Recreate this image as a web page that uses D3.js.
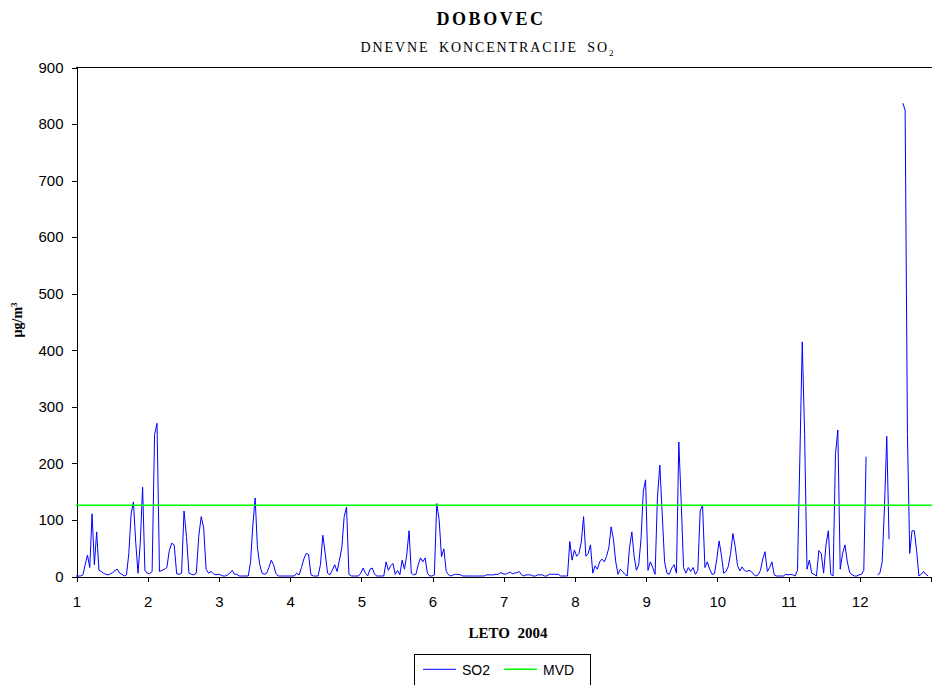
<!DOCTYPE html>
<html>
<head>
<meta charset="utf-8">
<script src="https://cdn.jsdelivr.net/npm/d3@7"></script>
<style>
body { margin: 0; background: #fff; }
svg { display: block; }
</style>
</head>
<body>
<div id="chart"></div>
<script>
// daily SO2 concentrations (µg/m3), one array per month, null = no measurement
let jan = [0,0,0,2,20,37,15,110,20,78, 10,8,5,3,2,4,6,10,12,5, 3,0,2,40,110,131,60,5,60,157, 10];
let feb = [5,4,8,250,270,8,10,12,15,45, 58,55,4,3,5,115,70,5,3,2, 5,70,105,85,12,5,8,4,2];
let mar = [3,2,0,0,2,5,10,3,3,0, 0,0,0,0,25,90,138,50,20,5, 3,5,15,28,20,5,0,0,0,0, 0];
let apr = [0,0,0,5,2,15,30,40,38,2, 0,0,0,20,72,40,5,2,10,20, 8,28,50,105,122,3,0,0,0,0];
let may = [5,14,5,0,12,14,3,0,0,0, 0,25,10,18,22,3,10,2,28,12, 37,80,5,2,3,20,32,25,32,5, 0];
let jun = [0,2,128,100,34,48,8,2,0,2, 3,3,2,0,0,0,0,0,0,0, 0,0,0,2,2,2,2,3,3,6];
let jul = [4,3,5,7,4,5,6,8,2,0, 2,2,2,0,0,2,2,2,0,0, 3,3,3,3,3,0,0,0,0,61, 28];
let aug = [46,35,40,60,105,35,40,55,5,18, 12,25,30,25,35,50,87,65,25,3, 12,8,3,0,50,78,35,10,20,65, 150];
let sep = [170,10,25,15,3,140,196,110,25,5, 3,14,20,5,237,130,15,5,15,8, 15,3,10,115,125,15,25,12,3,4];
let oct = [30,62,37,5,8,17,40,75,52,19, 9,16,10,8,10,8,3,0,2,10, 30,43,8,15,25,2,0,0,0,0, 3];
let nov = [2,3,2,0,10,210,414,250,12,28, 5,3,0,45,40,5,55,80,3,0, 215,258,12,40,55,25,6,2,0,0];
let dec = [2,3,10,211,null,null,null,null,2,5, 25,120,247,65,null,null,null,null,null,836, 824,250,40,80,80,45,0,3,8,3, 0];

let months = [jan, feb, mar, apr, may, jun, jul, aug, sep, oct, nov, dec];
let monthTicks = [1, 2, 3, 4, 5, 6, 7, 8, 9, 10, 11, 12, 13];
let yTicks = [0, 100, 200, 300, 400, 500, 600, 700, 800, 900];
let mvdLimit = 125;
let seriesNames = ["SO2", "MVD"];

let width = 932, height = 685;
let svg = d3.select("#chart")
	.append("svg")
	.attr("width", width)
	.attr("height", height);

//scales
let x = d3.scaleLinear().domain([1, 13]).range([76, 930.4]),
	y = d3.scaleLinear().domain([0, 900]).range([576, 67]);

//titles
svg.append("text")
	.attr("x", 491)
	.attr("y", 25)
	.attr("text-anchor", "middle")
	.style("font", "bold 18px 'Liberation Serif'")
	.style("letter-spacing", "2.6px")
	.text("DOBOVEC");

let sub = svg.append("text")
	.attr("x", 488)
	.attr("y", 52)
	.attr("text-anchor", "middle")
	.style("font", "14px 'Liberation Serif'")
	.style("letter-spacing", "1.9px")
	.style("word-spacing", "4px");
sub.append("tspan").text("DNEVNE KONCENTRACIJE SO");
sub.append("tspan").attr("dy", 4).style("font-size", "9px").text("2");

//plot frame top line
svg.append("line")
	.attr("x1", 76).attr("x2", 932)
	.attr("y1", 67.5).attr("y2", 67.5)
	.attr("stroke", "#000")
	.attr("stroke-width", 1);

//y axis
let yAxis = svg.append("g")
	.attr("transform", "translate(76.5,0.5)")
	.call(d3.axisLeft(y).tickValues(yTicks).tickSize(5).tickPadding(8));
yAxis.selectAll("text").style("font", "15px 'Liberation Sans'").attr("fill", "#000");

//x axis
let xAxis = svg.append("g")
	.attr("transform", "translate(0.5,576.5)")
	.call(d3.axisBottom(x).tickValues(monthTicks).tickSize(5).tickPadding(15)
		.tickFormat(function(d) { return d < 13 ? d : ""; }));
xAxis.selectAll("text").style("font", "15px 'Liberation Sans'").attr("fill", "#000");

svg.selectAll(".domain, .tick line").attr("stroke", "#000").attr("shape-rendering", "crispEdges");

//axis titles
svg.append("text")
	.attr("transform", "translate(22,320) rotate(-90)")
	.attr("text-anchor", "middle")
	.style("font", "bold 14px 'Liberation Serif'")
	.html("µg/m<tspan dy='-5' font-size='9px'>3</tspan>");

svg.append("text")
	.attr("x", 508)
	.attr("y", 638)
	.attr("text-anchor", "middle")
	.style("font", "bold 15px 'Liberation Serif'")
	.style("word-spacing", "4px")
	.text("LETO 2004");

//daily points
let points = [];
months.forEach(function(vals, i) {
	vals.forEach(function(v, d) {
		points.push({x: i + 1 + d / vals.length, v: v});
	});
});

let line = d3.line()
	.defined(function(d) { return d.v !== null; })
	.x(function(d) { return x(d.x); })
	.y(function(d) { return y(d.v); });

svg.append("path")
	.datum(points)
	.attr("d", line)
	.attr("fill", "none")
	.attr("stroke", "#0000ff")
	.attr("stroke-width", 1);

//limit value line
svg.append("line")
	.attr("x1", x(1)).attr("x2", 932)
	.attr("y1", y(mvdLimit)).attr("y2", y(mvdLimit))
	.attr("stroke", "#00ff00")
	.attr("stroke-width", 1.6);

//legend
let legend = svg.append("g");
legend.append("rect")
	.attr("x", 414.5).attr("y", 654.5)
	.attr("width", 176).attr("height", 40)
	.attr("fill", "#fff")
	.attr("stroke", "#000");
let legColors = ["#0000ff", "#00ff00"];
seriesNames.forEach(function(name, i) {
	let lx = 423 + i * 81;
	legend.append("line")
		.attr("x1", lx).attr("x2", lx + 33)
		.attr("y1", 669.3).attr("y2", 669.3)
		.attr("stroke", legColors[i])
		.attr("stroke-width", i === 1 ? 1.6 : 1);
	legend.append("text")
		.attr("x", lx + 39)
		.attr("y", 675)
		.style("font", "14px 'Liberation Sans'")
		.text(name);
});
</script>
</body>
</html>
